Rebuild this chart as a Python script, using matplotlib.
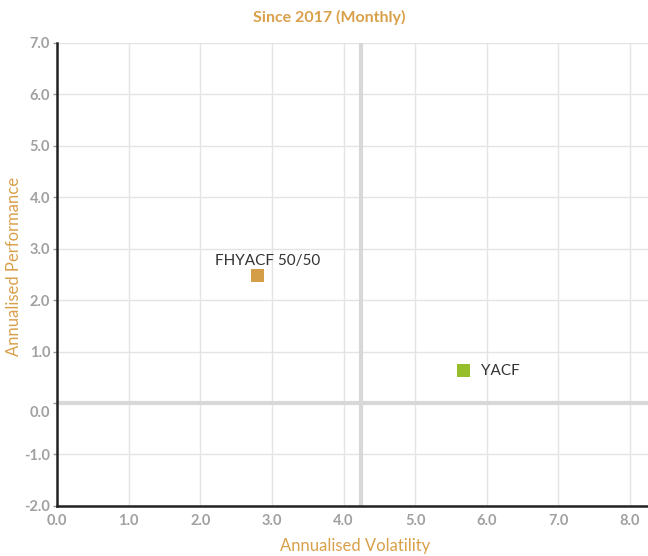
import matplotlib.pyplot as plt
import matplotlib.transforms as mtransforms

# data
names = ["FHYACF 50/50", "YACF"]
volatility = [2.80, 5.68]
performance = [2.48, 0.63]
colors = ["#D49E48", "#95BE2A"]
x_ticks = [0.0, 1.0, 2.0, 3.0, 4.0, 5.0, 6.0, 7.0, 8.0]
y_ticks = [-2.0, -1.0, 0.0, 1.0, 2.0, 3.0, 4.0, 5.0, 6.0, 7.0]
avg_volatility = sum(volatility) / len(volatility)

plt.rcParams['font.family'] = ['Lato', 'DejaVu Sans']

fig = plt.figure(figsize=(6.48, 5.56), dpi=100)
ax = fig.add_axes([0.088, 0.09, 0.912, 0.833])

ax.set_xlim(0, 8.25)
ax.set_ylim(-2, 7)
ax.set_xticks(x_ticks)
ax.set_yticks(y_ticks)
ax.set_xticklabels(["%.1f" % v for v in x_ticks])
ax.set_yticklabels(["%.1f" % v for v in y_ticks])

ax.grid(True, color="#e4e4e4", linewidth=1)
ax.set_axisbelow(True)

# reference lines
ax.axvline(avg_volatility, color="#d8d8d8", linewidth=3, zorder=1)
ax.axhline(0, color="#d8d8d8", linewidth=3, zorder=1)

for s in ["top", "right"]:
    ax.spines[s].set_visible(False)
for s in ["left", "bottom"]:
    ax.spines[s].set_color("#222222")
    ax.spines[s].set_linewidth(1.8)

ax.tick_params(axis="both", colors="#999999", labelsize=10.5, length=3, width=1)
ax.tick_params(axis="x", length=0, pad=6)
ax.tick_params(axis="y", pad=2)
for lab in ax.get_xticklabels() + ax.get_yticklabels():
    lab.set_fontweight("bold")
    lab.set_color("#a0a0a0")

# shift the 0.0 label a bit down like the reference
for lab, v in zip(ax.get_yticklabels(), y_ticks):
    if v == 0.0:
        lab.set_transform(lab.get_transform() + mtransforms.ScaledTranslation(0, -6 / 72, fig.dpi_scale_trans))

ax.scatter(volatility, performance, c=colors, marker="s", s=85, zorder=3, linewidths=0)

ax.annotate(names[0], (volatility[0], performance[0]), xytext=(7, 5), textcoords="offset points",
            ha="center", va="bottom", fontsize=11, color="#333333")
ax.annotate(names[1], (volatility[1], performance[1]), xytext=(12, 0), textcoords="offset points",
            ha="left", va="center", fontsize=11, color="#333333")

fig.text(0.508, 0.968, "Since 2017 (Monthly)", ha="center", va="center", fontsize=11.5,
         fontweight="bold", color="#D9A04A")
fig.text(0.548, 0.018, "Annualised Volatility", ha="center", va="center", fontsize=12,
         color="#D9A04A")
fig.text(0.022, 0.52, "Annualised Performance", ha="center", va="center", fontsize=12,
         color="#D9A04A", rotation=90)

fig.savefig("out.png", dpi=100)
